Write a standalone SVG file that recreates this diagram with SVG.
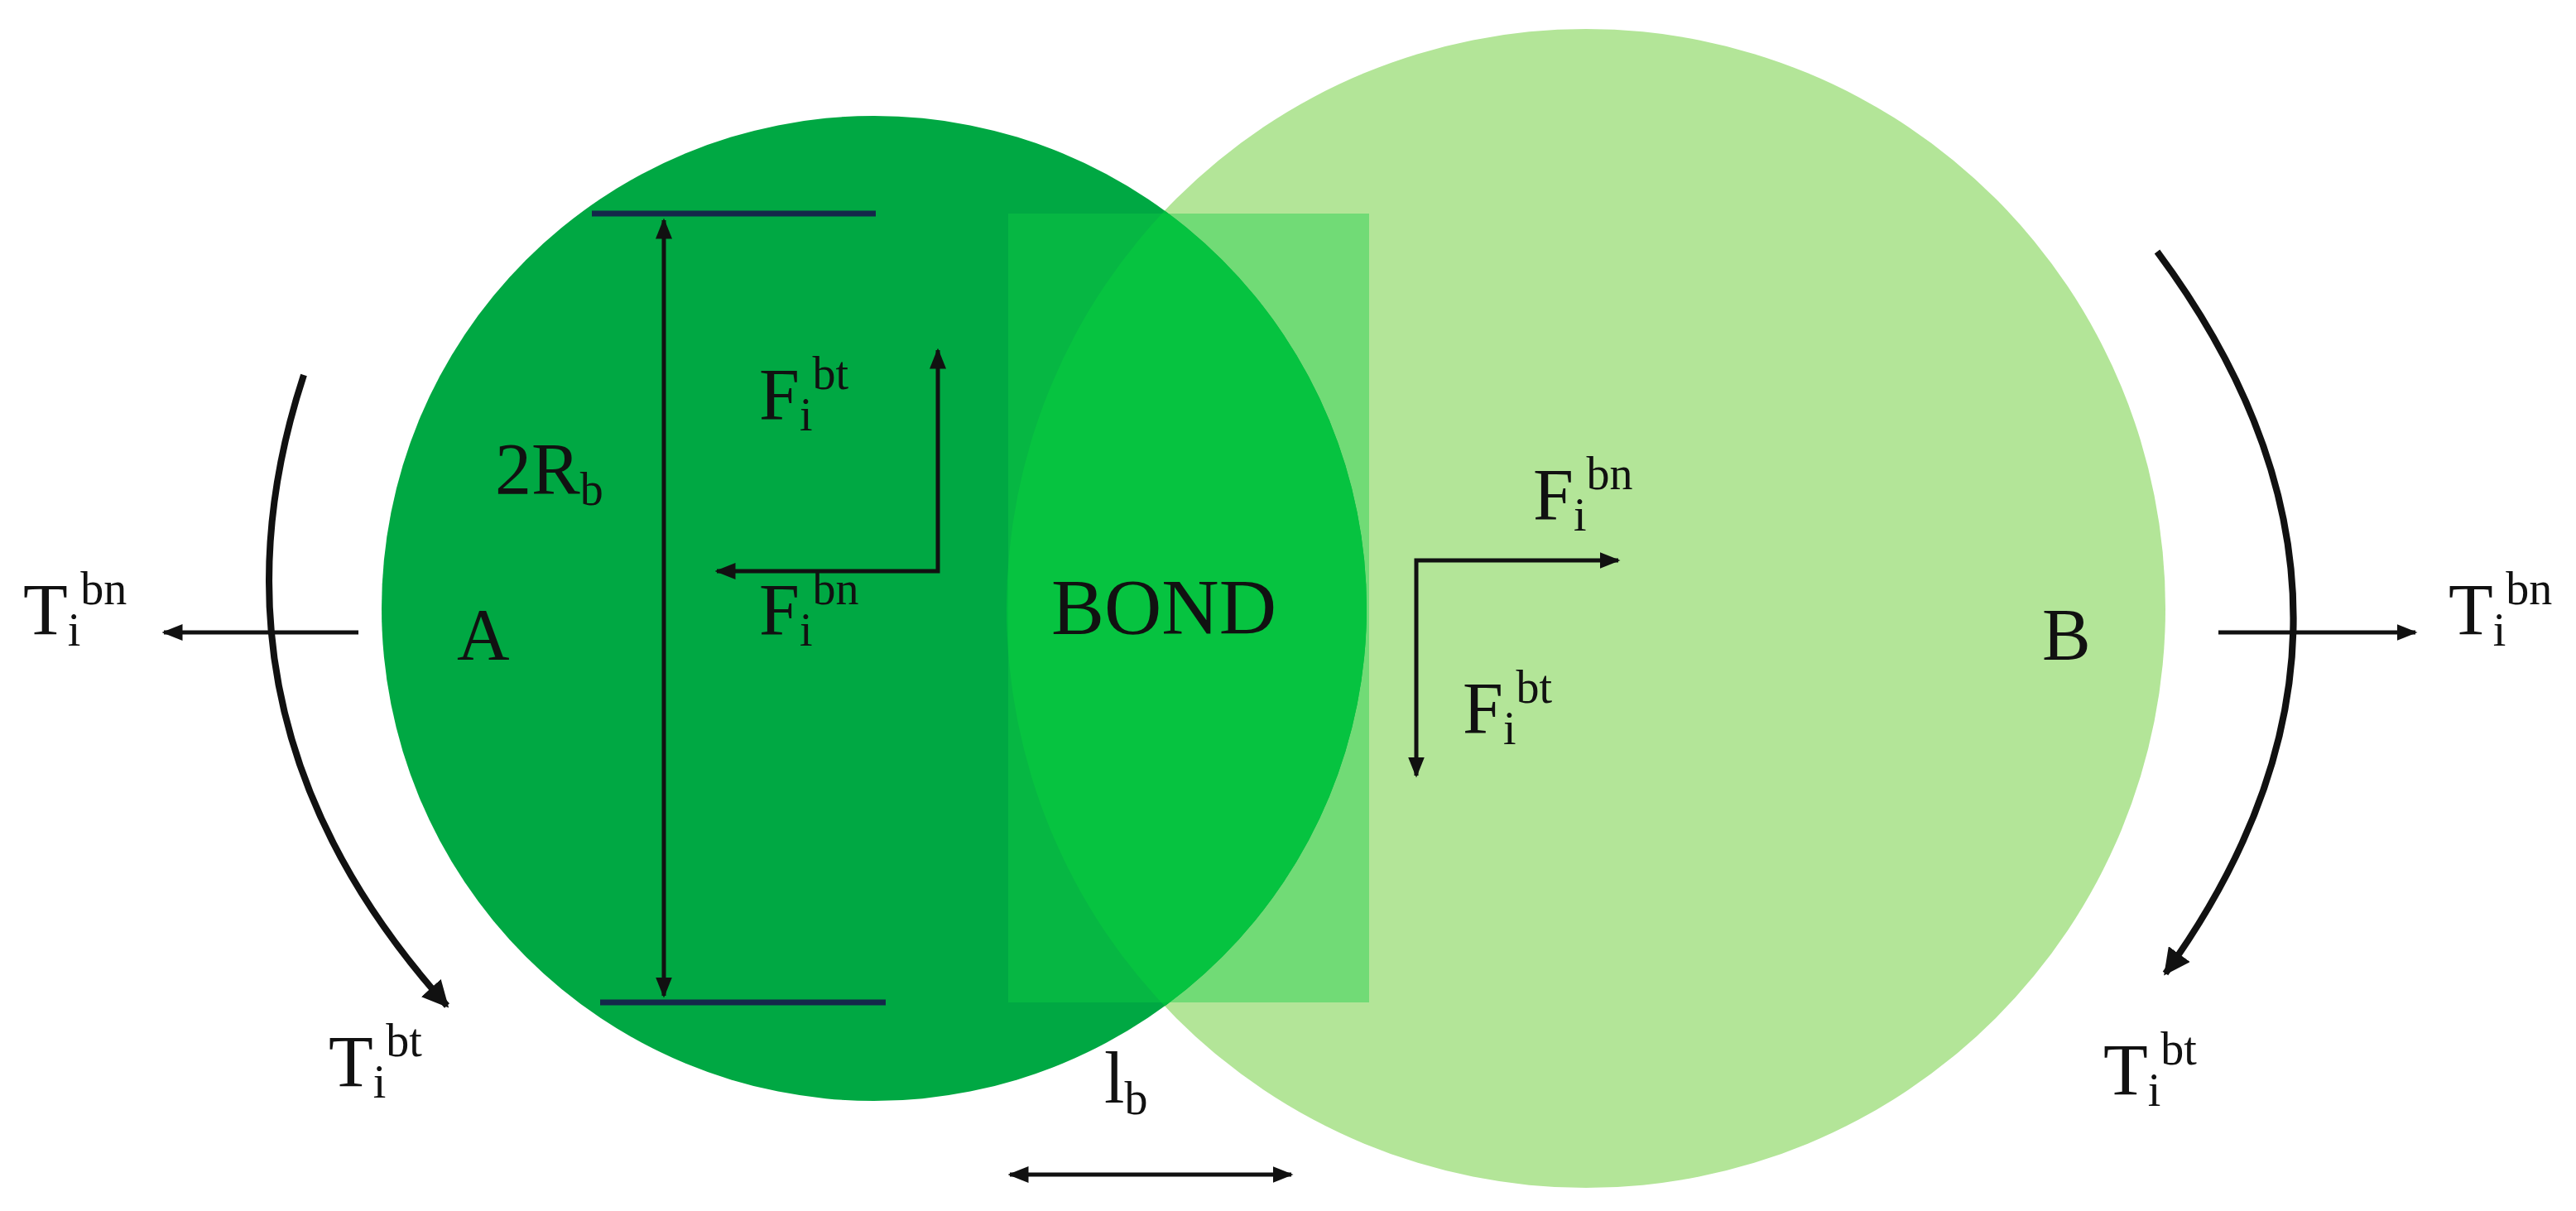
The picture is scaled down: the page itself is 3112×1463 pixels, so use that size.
<svg xmlns="http://www.w3.org/2000/svg" width="3112" height="1463" viewBox="0 0 3112 1463">
<style>
text{font-family:"Liberation Serif","Times New Roman",serif;fill:#111;font-size:88px}
.s{font-size:56px}
.ln{stroke:#111;stroke-width:5;fill:none}
.bar{stroke:#14284a;stroke-width:7}
</style>
<defs>
<marker id="ah" viewBox="0 0 10 10" refX="9" refY="5" markerWidth="5" markerHeight="5" orient="auto-start-reverse" markerUnits="strokeWidth"><path d="M0,1 L10,5 L0,9 z" fill="#111"/></marker>
<marker id="ah2" viewBox="0 0 10 10" refX="9" refY="5" markerWidth="4" markerHeight="4" orient="auto" markerUnits="strokeWidth"><path d="M0,0 L10,5 L0,10 z" fill="#111"/></marker>
<clipPath id="cA"><circle cx="1056" cy="735" r="595"/></clipPath>
</defs>
<g id="particleB"><circle cx="1916" cy="735" r="700" fill="#b3e598"/></g>
<g id="particleA"><circle cx="1056" cy="735" r="595" fill="#00a843"/></g>
<g id="lens"><circle cx="1916" cy="735" r="700" fill="#00bd3f" clip-path="url(#cA)"/></g>
<g id="bond"><rect x="1218" y="258" width="436" height="953" fill="#10cc44" opacity="0.4"/></g>
<g id="connectors">
<line class="bar" x1="715" y1="258" x2="1058" y2="258"/>
<line class="bar" x1="725" y1="1211" x2="1070" y2="1211"/>
<line class="ln" x1="802" y1="266" x2="802" y2="1203" marker-start="url(#ah)" marker-end="url(#ah)"/>
<polyline class="ln" points="1133,423 1133,690 866,690" marker-start="url(#ah)" marker-end="url(#ah)"/>
<polyline class="ln" points="1955,677 1711,677 1711,937" marker-start="url(#ah)" marker-end="url(#ah)"/>
<line class="ln" x1="433" y1="764" x2="198" y2="764" marker-end="url(#ah)"/>
<line class="ln" x1="2680" y1="764" x2="2918" y2="764" marker-end="url(#ah)"/>
<line class="ln" x1="1220" y1="1419" x2="1560" y2="1419" marker-start="url(#ah)" marker-end="url(#ah)"/>
<path d="M367,453 Q230,870 540,1215" stroke="#111" stroke-width="8" fill="none" marker-end="url(#ah2)"/>
<path d="M2606,304 Q2930,740 2616,1176" stroke="#111" stroke-width="8" fill="none" marker-end="url(#ah2)"/>
</g>
<g id="labels">
<text x="598" y="596">2R<tspan class="s" dy="14">b</tspan></text>
<text x="917" y="506">F<tspan class="s" dy="14">i</tspan><tspan class="s" dy="-50">bt</tspan></text>
<text x="917" y="766">F<tspan class="s" dy="14">i</tspan><tspan class="s" dy="-50">bn</tspan></text>
<text x="552" y="796">A</text>
<text x="1270" y="766" style="font-size:96px">BOND</text>
<text x="1852" y="627">F<tspan class="s" dy="14">i</tspan><tspan class="s" dy="-50">bn</tspan></text>
<text x="1767" y="885">F<tspan class="s" dy="14">i</tspan><tspan class="s" dy="-50">bt</tspan></text>
<text x="2467" y="796">B</text>
<text x="28" y="766">T<tspan class="s" dy="14">i</tspan><tspan class="s" dy="-50">bn</tspan></text>
<text x="2958" y="766">T<tspan class="s" dy="14">i</tspan><tspan class="s" dy="-50">bn</tspan></text>
<text x="397" y="1312">T<tspan class="s" dy="14">i</tspan><tspan class="s" dy="-50">bt</tspan></text>
<text x="2541" y="1322">T<tspan class="s" dy="14">i</tspan><tspan class="s" dy="-50">bt</tspan></text>
<text x="1334" y="1332">l<tspan class="s" dy="14">b</tspan></text>
</g>
</svg>
